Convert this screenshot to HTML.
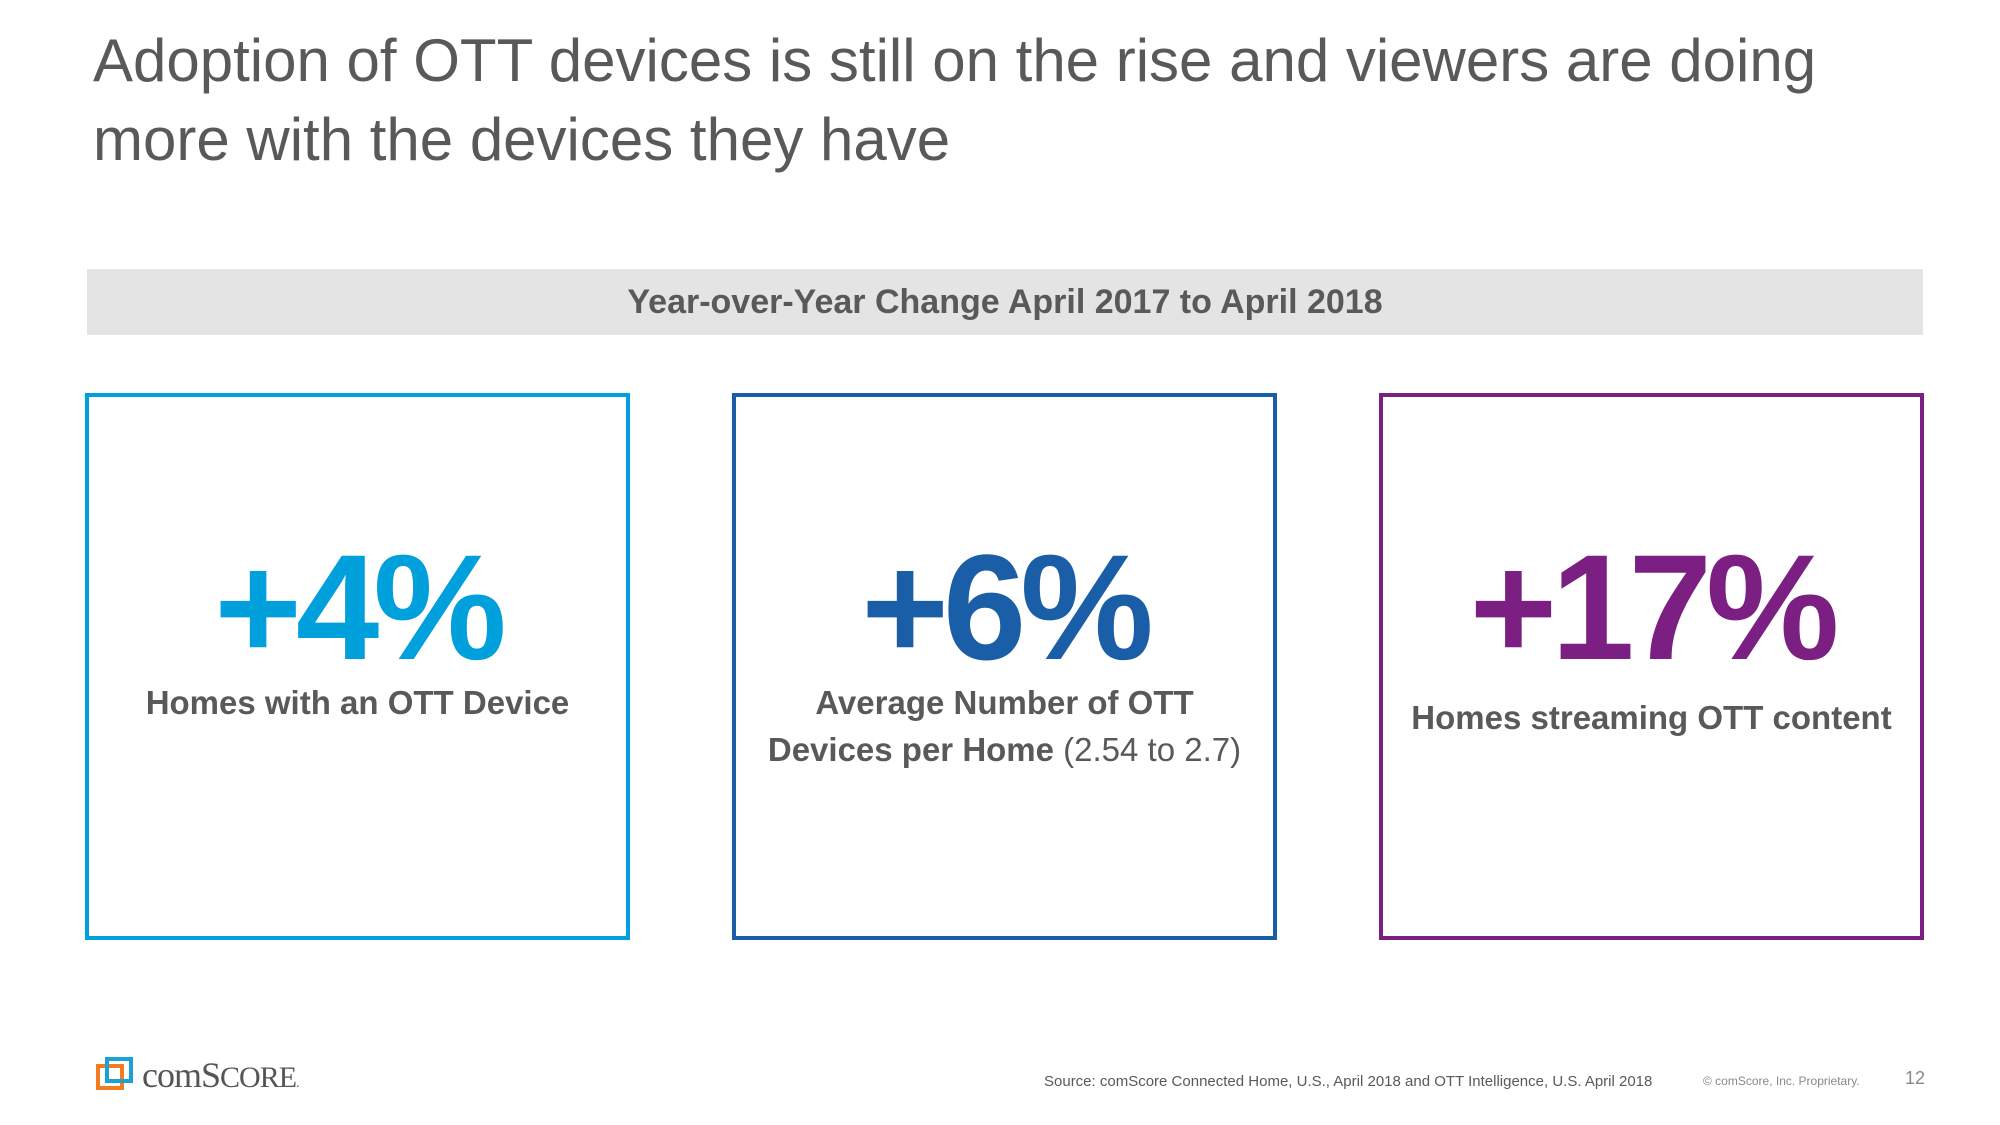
<!DOCTYPE html>
<html><head><meta charset="utf-8"><style>
body{margin:0;width:2000px;height:1125px;background:#fff;position:relative;overflow:hidden;font-family:"Liberation Sans",sans-serif;color:#595959}
.abs{position:absolute}
.box{position:absolute;top:393px;width:537px;height:539px;border:4px solid;box-sizing:content-box}
.num{position:absolute;left:0;right:0;text-align:center;font-weight:bold;font-size:150px;letter-spacing:-6px;line-height:1}
.lbl{position:absolute;left:0;right:0;text-align:center;font-weight:bold;font-size:33px;line-height:47px;color:#595959}
</style></head><body>
<div class="abs" style="left:93px;top:21px;font-size:60px;line-height:79px;color:#595959;width:1880px">Adoption of OTT devices is still on the rise and viewers are doing<br>more with the devices they have</div>
<div class="abs" style="left:87px;top:269px;width:1836px;height:66px;background:#e4e4e4;text-align:center;font-weight:bold;font-size:34px;line-height:66px;color:#595959">Year-over-Year Change April 2017 to April 2018</div>

<div class="box" style="left:85px;border-color:#00a0dc">
 <div class="num" style="top:135px;color:#00a0dc">+4%</div>
 <div class="lbl" style="top:282px">Homes with an OTT Device</div>
</div>
<div class="box" style="left:732px;border-color:#1b5ea8">
 <div class="num" style="top:135px;color:#1b5ea8">+6%</div>
 <div class="lbl" style="top:282px">Average Number of OTT<br>Devices per Home <span style="font-weight:normal">(2.54 to 2.7)</span></div>
</div>
<div class="box" style="left:1379px;border-color:#7b1f83">
 <div class="num" style="top:135px;color:#7b1f83">+17%</div>
 <div class="lbl" style="top:297px">Homes streaming OTT content</div>
</div>

<div class="abs" style="left:95px;top:1056px;height:36px">
 <svg width="40" height="36" class="abs" style="left:0;top:0"><rect x="3" y="10" width="24" height="22" fill="none" stroke="#f47b20" stroke-width="4"/><rect x="12" y="3" width="24" height="22" fill="none" stroke="#1ba0d8" stroke-width="4"/></svg>
 <div class="abs" style="left:47px;top:-2px;font-family:'Liberation Serif',serif;font-size:36px;color:#555;white-space:nowrap;letter-spacing:-1px">comS<span style="font-size:30px">CORE</span><span style="font-size:14px">.</span></div>
</div>
<div class="abs" style="left:1044px;top:1073px;font-size:15px;color:#595959;white-space:nowrap">Source: comScore Connected Home, U.S., April 2018 and OTT Intelligence, U.S. April 2018</div>
<div class="abs" style="left:1703px;top:1074px;font-size:12px;color:#888;white-space:nowrap">© comScore, Inc. Proprietary.</div>
<div class="abs" style="left:1905px;top:1068px;font-size:18px;color:#888">12</div>
</body></html>
